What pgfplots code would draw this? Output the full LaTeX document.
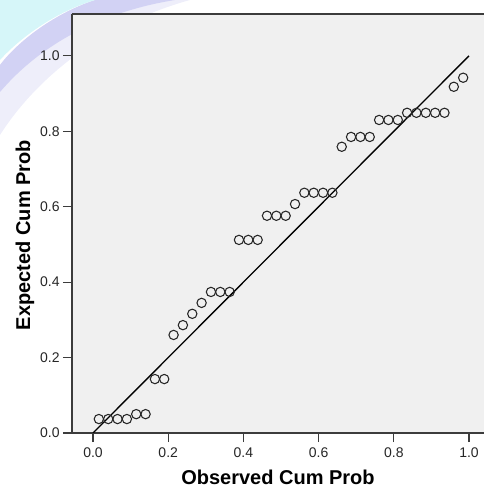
\documentclass[border=0pt]{standalone}
\usepackage{pgfplots}
\pgfplotsset{compat=1.18}
\usepackage{fontspec}
\setmainfont{Liberation Sans}
\definecolor{bgray}{HTML}{F0F0F0}
\definecolor{framec}{HTML}{3C3C3C}
\definecolor{wmcyan}{HTML}{D6F6F9}
\definecolor{wmlav}{HTML}{D2D2F4}
\definecolor{wmfade}{HTML}{EEEEFA}

\pgfplotstableread{
x y
0.0155 0.037
0.0404 0.037
0.0652 0.037
0.0901 0.037
0.1149 0.050
0.1398 0.050
0.1646 0.143
0.1894 0.143
0.2143 0.260
0.2391 0.286
0.2640 0.316
0.2888 0.345
0.3137 0.374
0.3385 0.374
0.3634 0.374
0.3882 0.512
0.4130 0.512
0.4379 0.512
0.4627 0.576
0.4876 0.576
0.5124 0.576
0.5373 0.607
0.5621 0.637
0.5870 0.637
0.6118 0.637
0.6366 0.637
0.6615 0.759
0.6863 0.785
0.7112 0.785
0.7360 0.785
0.7609 0.830
0.7857 0.830
0.8106 0.830
0.8354 0.849
0.8602 0.849
0.8851 0.849
0.9099 0.849
0.9348 0.849
0.9596 0.918
0.9845 0.942
}\pptable

\begin{document}
\begin{tikzpicture}
% faint watermark in the top left corner (pixel coordinates)
\begin{scope}[x=0.75pt, y=-0.75pt, shift={(-54pt,324.75pt)}]
  \fill[wmfade] (0,135) .. controls (35,80) and (100,25) .. (190,0) -- (95,0) .. controls (50,15) and (15,45) .. (0,65) -- cycle;
  \fill[wmlav] (0,92) .. controls (40,45) and (100,12) .. (175,0) -- (95,0) .. controls (50,15) and (15,45) .. (0,65) -- cycle;
  \fill[wmcyan] (0,0) -- (95,0) .. controls (55,12) and (20,38) .. (0,60) -- cycle;
\end{scope}

\begin{axis}[
  scale only axis,
  width=309pt, height=314.25pt,
  xmin=-0.0559, xmax=1.0399,
  ymin=0, ymax=1.111,
  axis x line*=bottom, axis y line*=left,
  axis line style={framec, line width=0.9pt},
  axis background/.style={fill=bgray},
  xtick={0,0.2,...,1.0}, ytick={0,0.2,...,1.0},
  tick align=outside,
  major tick length=6.75pt,
  tick style={framec, line width=0.9pt},
  /pgf/number format/.cd, fixed, fixed zerofill, precision=1, assume math mode=true,
  /pgfplots/.cd,
  ticklabel style={font=\fontsize{10.5pt}{12pt}\selectfont, text=black!85},
  yticklabel style={xshift=1pt},
  xticklabel style={yshift=-0.5pt},
]
\addplot[black, line width=1pt] coordinates {(0,0) (1,1)};
\addplot[only marks, mark=o, mark size=3.5pt, mark options={draw=black!85, line width=0.8pt}] table[x=x, y=y] {\pptable};
\end{axis}
\draw[framec, line width=0.9pt] (0,314.25pt) -- (320pt,314.25pt);

\begin{scope}[x=0.75pt, y=-0.75pt, shift={(-54pt,324.75pt)}]
  \node[font=\fontsize{15pt}{18pt}\selectfont\bfseries] at (278,477) {Observed Cum Prob};
  \node[font=\fontsize{15pt}{18pt}\selectfont\bfseries, rotate=90] at (25,235) {Expected Cum Prob};
\end{scope}

\pgfresetboundingbox
\useasboundingbox (-54pt,-41.25pt) rectangle (309pt,324.75pt);
\end{tikzpicture}
\end{document}
